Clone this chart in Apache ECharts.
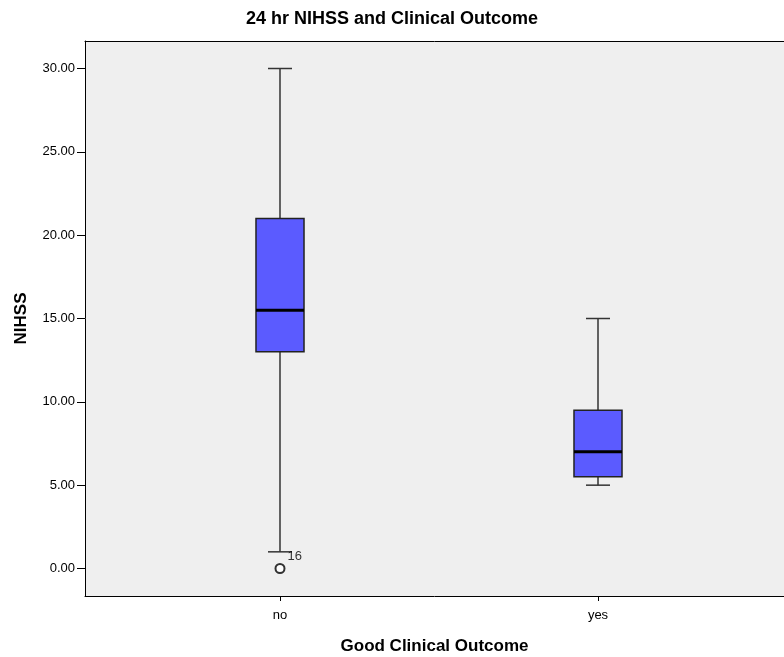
<!DOCTYPE html>
<html>
<head>
<meta charset="utf-8">
<script src="https://cdn.jsdelivr.net/npm/echarts@6/dist/echarts.min.js"></script>
<style>
  html, body { margin: 0; padding: 0; background: #fff; }
  #chart { width: 784px; height: 657px; }
</style>
</head>
<body>
<div id="chart"></div>
<script>
// Five-number summaries of 24 hr NIHSS by clinical outcome group
const categories = ['no', 'yes'];
const whiskerLow = [1, 5];
const q1 = [13, 5.5];
const median = [15.5, 7];
const q3 = [21, 9.5];
const whiskerHigh = [30, 15];

// Outlying cases: group, value, case number
const outlierGroup = ['no'];
const outlierValue = [0];
const outlierCase = ['16'];

const yTicks = [0, 5, 10, 15, 20, 25, 30];

const boxData = categories.map((c, i) => [i + 1, whiskerLow[i], q1[i], median[i], q3[i], whiskerHigh[i]]);
const outlierData = outlierGroup.map((g, i) => ({
  value: [categories.indexOf(g) + 1, outlierValue[i]],
  caseId: outlierCase[i]
}));

const FONT = 'Liberation Sans, Arial, sans-serif';

function renderBox(params, api) {
  const x = api.value(0);
  const pLow = api.coord([x, api.value(1)]);
  const pQ1 = api.coord([x, api.value(2)]);
  const pMed = api.coord([x, api.value(3)]);
  const pQ3 = api.coord([x, api.value(4)]);
  const pHigh = api.coord([x, api.value(5)]);
  const unit = api.size([1, 0])[0];
  const boxW = unit * 0.151;
  const capW = boxW / 2;
  const cx = pMed[0];
  const lineStyle = { stroke: '#333', lineWidth: 1.5 };
  return {
    type: 'group',
    children: [
      { type: 'line', shape: { x1: cx, y1: pLow[1], x2: cx, y2: pQ1[1] }, style: lineStyle },
      { type: 'line', shape: { x1: cx, y1: pQ3[1], x2: cx, y2: pHigh[1] }, style: lineStyle },
      { type: 'line', shape: { x1: cx - capW / 2, y1: pLow[1], x2: cx + capW / 2, y2: pLow[1] }, style: lineStyle },
      { type: 'line', shape: { x1: cx - capW / 2, y1: pHigh[1], x2: cx + capW / 2, y2: pHigh[1] }, style: lineStyle },
      {
        type: 'rect',
        shape: { x: cx - boxW / 2, y: pQ3[1], width: boxW, height: pQ1[1] - pQ3[1] },
        style: { fill: '#5b5bff', stroke: '#222', lineWidth: 1.5 }
      },
      { type: 'line', shape: { x1: cx - boxW / 2, y1: pMed[1], x2: cx + boxW / 2, y2: pMed[1] }, style: { stroke: '#000', lineWidth: 3 } }
    ]
  };
}

const chart = echarts.init(document.getElementById('chart'), null, { renderer: 'canvas' });
chart.setOption({
  animation: false,
  backgroundColor: '#fff',
  title: {
    text: '24 hr NIHSS and Clinical Outcome',
    left: 'center',
    top: 5,
    textStyle: { fontFamily: FONT, fontSize: 18, fontWeight: 'bold', color: '#000' }
  },
  grid: {
    left: 85, top: 41, right: 0, height: 555,
    outerBoundsMode: 'none',
    containLabel: false,
    show: true, backgroundColor: '#efefef', borderWidth: 0
  },
  xAxis: [
    {
      type: 'value',
      min: 0.3868, max: 2.5849,
      name: 'Good Clinical Outcome',
      nameLocation: 'middle',
      nameGap: 42,
      nameTextStyle: { fontFamily: FONT, fontSize: 17, fontWeight: 'bold', color: '#000' },
      axisLine: { show: true, onZero: false, lineStyle: { color: '#000', width: 1 } },
      axisTick: { show: true, customValues: [1, 2], length: 5, lineStyle: { color: '#000' } },
      axisLabel: {
        customValues: [1, 2],
        formatter: v => categories[Math.round(v) - 1],
        margin: 13,
        fontFamily: FONT, fontSize: 13, color: '#000'
      },
      splitLine: { show: false }
    },
    {
      // top frame line of the plot area
      type: 'value',
      position: 'top',
      min: 0.3868, max: 2.5849,
      axisLine: { show: true, onZero: false, lineStyle: { color: '#000', width: 1 } },
      axisTick: { show: false },
      axisLabel: { show: false },
      splitLine: { show: false }
    }
  ],
  yAxis: {
    type: 'value',
    min: -1.65, max: 31.65,
    name: 'NIHSS',
    nameLocation: 'middle',
    nameGap: 55,
    nameTextStyle: { fontFamily: FONT, fontSize: 17, fontWeight: 'bold', color: '#000' },
    axisLine: { show: true, onZero: false, lineStyle: { color: '#000', width: 1 } },
    axisTick: { show: true, customValues: yTicks, length: 8, lineStyle: { color: '#000' } },
    axisLabel: {
      customValues: yTicks,
      formatter: v => v.toFixed(2),
      margin: 10,
      fontFamily: FONT, fontSize: 13, color: '#000'
    },
    splitLine: { show: false }
  },
  series: [
    {
      type: 'custom',
      renderItem: renderBox,
      data: boxData,
      encode: { x: 0, y: [1, 2, 3, 4, 5] },
      z: 2
    },
    {
      type: 'scatter',
      data: outlierData,
      symbol: 'emptyCircle',
      symbolSize: 9,
      itemStyle: { color: '#000', borderColor: '#000', borderWidth: 1.3 },
      label: {
        show: true,
        formatter: p => p.data.caseId,
        position: 'right',
        offset: [-3, -12],
        fontFamily: FONT, fontSize: 13, color: '#000'
      },
      z: 3
    }
  ]
});
</script>
</body>
</html>
